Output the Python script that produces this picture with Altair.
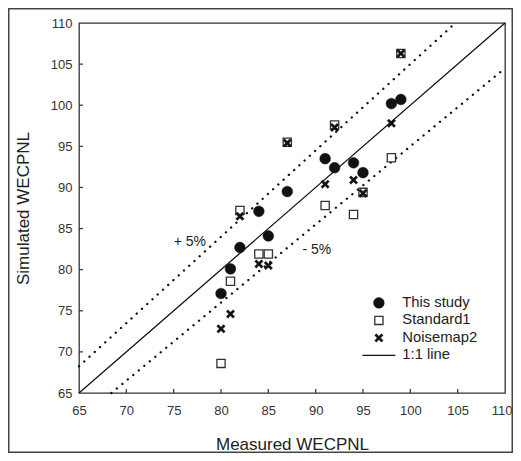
import altair as alt
import pandas as pd

# ---- data ----
measured = [80, 81, 82, 84, 85, 87, 91, 92, 94, 95, 98, 99]
this_study = [77.1, 80.1, 82.7, 87.1, 84.1, 89.5, 93.5, 92.4, 93.0, 91.8, 100.2, 100.7]
standard1 = [68.6, 78.6, 87.2, 81.9, 81.9, 95.5, 87.8, 97.6, 86.7, 89.4, 93.6, 106.3]
noisemap2 = [72.8, 74.6, 86.5, 80.7, 80.5, 95.4, 90.4, 97.3, 90.9, 89.3, 97.8, 106.3]

series_names = ["This study", "Standard1", "Noisemap2", "1:1 line"]

one_x = [65, 110]
one_y = [65, 110]
upper_x = [65, 104.76]
upper_y = [68.25, 110]
lower_x = [68.42, 110]
lower_y = [65, 104.5]

label_x = [75.0, 88.6]
label_y = [83.4, 82.4]
label_text = ["+ 5%", "- 5%"]

tick_vals = [70, 75, 80, 85, 90, 95, 100, 105]
axis_vals = [65, 70, 75, 80, 85, 90, 95, 100, 105, 110]

FONT = "Liberation Sans"
W, H = 426, 370

rows = []
for name, vals in [("This study", this_study), ("Standard1", standard1), ("Noisemap2", noisemap2)]:
    for mx, sy in zip(measured, vals):
        rows.append({"measured": mx, "simulated": sy, "series": name})
pts = pd.DataFrame(rows)

xscale = alt.Scale(domain=[65, 110], nice=False, zero=False)
yscale = alt.Scale(domain=[65, 110], nice=False, zero=False)

X_PATH = "M-1,-0.6L-0.6,-1L0,-0.4L0.6,-1L1,-0.6L0.4,0L1,0.6L0.6,1L0,0.4L-0.6,1L-1,0.6L-0.4,0Z"
LINE_PATH = "M-3.3,0L3.3,0"

leg = alt.Legend(title=None, orient="none", legendX=292.5, legendY=272.5,
                 labelFont=FONT, labelFontSize=14.8, labelColor="#222",
                 labelOffset=16, rowPadding=1.5, padding=0, symbolOffset=0)

points = alt.Chart(pts).mark_point(opacity=1).encode(
    x=alt.X("measured:Q", scale=xscale,
            axis=alt.Axis(values=axis_vals, ticks=False, domain=False, grid=False,
                          labelFlush=False, labelOverlap=False,
                          labelOffset={"condition": {"test": "datum.value >= 110", "value": -3.5}, "value": 0},
                          labelFont=FONT, labelFontSize=13, labelColor="#333",
                          labelPadding=11, title="Measured WECPNL",
                          titleFont=FONT, titleFontSize=17, titleFontWeight="normal",
                          titleColor="#222", titlePadding=19)),
    y=alt.Y("simulated:Q", scale=yscale,
            axis=alt.Axis(values=axis_vals, ticks=False, domain=False, grid=False,
                          labelFlush=False, labelOverlap=False,
                          labelFont=FONT, labelFontSize=13, labelColor="#333",
                          labelPadding=7, title="Simulated WECPNL",
                          titleFont=FONT, titleFontSize=17, titleFontWeight="normal",
                          titleColor="#222", titlePadding=18)),
    shape=alt.Shape("series:N", scale=alt.Scale(domain=series_names,
                    range=["circle", "square", X_PATH, LINE_PATH]), legend=leg),
    fill=alt.Fill("series:N", scale=alt.Scale(domain=series_names,
                  range=["#111111", "#ffffff", "#111111", "transparent"]), legend=leg),
    stroke=alt.Stroke("series:N", scale=alt.Scale(domain=series_names,
                      range=["#111111", "#333333", "#111111", "#111111"]), legend=leg),
    size=alt.Size("series:N", scale=alt.Scale(type="ordinal", domain=series_names,
                  range=[115, 68, 72, 100]), legend=leg),
    strokeWidth=alt.StrokeWidth("series:N", scale=alt.Scale(type="ordinal", domain=series_names,
                                range=[0.5, 1.3, 0.4, 1.3]), legend=leg),
)

one_line = alt.Chart(pd.DataFrame({"x": one_x, "y": one_y})).mark_line(
    color="#111", strokeWidth=1.3).encode(x=alt.X("x:Q", scale=xscale), y=alt.Y("y:Q", scale=yscale))

upper = alt.Chart(pd.DataFrame({"x": upper_x, "y": upper_y})).mark_line(
    color="#111", strokeWidth=2.3, strokeDash=[0.1, 7], strokeCap="round").encode(
    x=alt.X("x:Q", scale=xscale), y=alt.Y("y:Q", scale=yscale))

lower = alt.Chart(pd.DataFrame({"x": lower_x, "y": lower_y})).mark_line(
    color="#111", strokeWidth=2.3, strokeDash=[0.1, 7], strokeCap="round").encode(
    x=alt.X("x:Q", scale=xscale), y=alt.Y("y:Q", scale=yscale))

labels = alt.Chart(pd.DataFrame({"x": label_x, "y": label_y, "t": label_text})).mark_text(
    align="left", baseline="middle", font=FONT, fontSize=14, color="#222").encode(
    x=alt.X("x:Q", scale=xscale), y=alt.Y("y:Q", scale=yscale), text="t:N")

bottom_ticks = alt.Chart(pd.DataFrame({"v": tick_vals})).mark_rule(
    color="#333", strokeWidth=1.2).encode(
    x=alt.X("v:Q", scale=xscale), y=alt.value(H), y2=alt.value(H - 4))

left_ticks = alt.Chart(pd.DataFrame({"v": tick_vals})).mark_rule(
    color="#333", strokeWidth=1.2).encode(
    y=alt.Y("v:Q", scale=yscale), x=alt.value(0), x2=alt.value(4))

frame = alt.Chart(pd.DataFrame({"a": [0]})).mark_rect(
    fill="transparent", stroke="#444", strokeWidth=1.5, clip=False).encode(
    x=alt.value(-70.25), x2=alt.value(433.25), y=alt.value(-14.25), y2=alt.value(429.25))

chart = alt.layer(frame, upper, lower, one_line, bottom_ticks, left_ticks, points, labels).properties(
    width=W, height=H,
    autosize=alt.AutoSizeParams(type="none"),
    padding={"left": 71, "top": 15, "right": 8, "bottom": 60},
    background="white",
).configure_view(stroke="#333", strokeWidth=1.3)

chart.save("out.html", embed_options={"renderer": "svg", "actions": False})
